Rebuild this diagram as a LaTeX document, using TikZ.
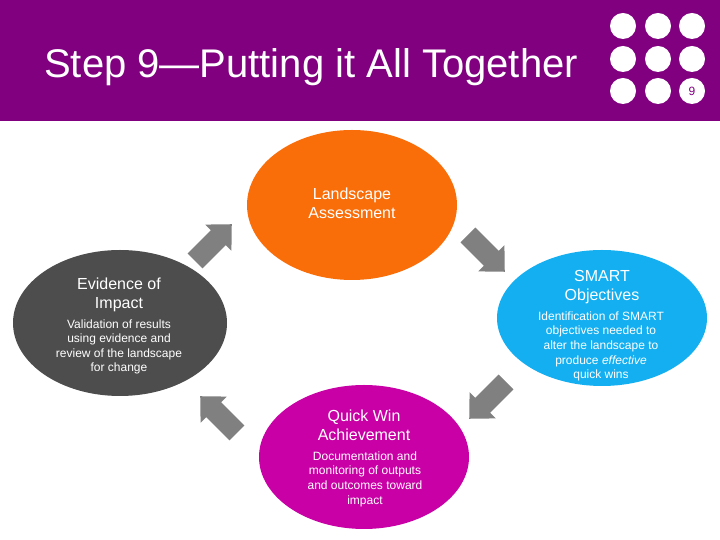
\documentclass[tikz,border=0pt]{standalone}
\usepackage{fontspec}
\setmainfont{Liberation Sans}
\usetikzlibrary{shapes.geometric}
\definecolor{hdrpurple}{RGB}{128,0,128}
\definecolor{landorange}{RGB}{250,110,10}
\definecolor{smartcyan}{RGB}{20,175,240}
\definecolor{evgray}{RGB}{77,77,77}
\definecolor{qwmagenta}{RGB}{200,0,165}
\definecolor{arrowgray}{RGB}{128,128,128}
\tikzset{
  blob/.style={ellipse, draw=none, inner sep=0pt},
  ttl/.style={text=white, align=center, inner sep=0pt, font=\fontsize{16}{19}\selectfont},
  bdy/.style={text=white, align=center, inner sep=0pt, font=\fontsize{12}{14.6}\selectfont},
  dot/.style={circle, fill=white, draw=none, minimum size=26pt, inner sep=0pt},
  blockarrow/.style={fill=arrowgray, draw=none}
}
\newcommand{\blockarr}[3]{%
  \fill[blockarrow, shift={(#1,#2)}, rotate=#3]
    (0,-10.5) -- (33,-10.5) -- (33,-18.5) -- (52,0) -- (33,18.5) -- (33,10.5) -- (0,10.5) -- cycle;}
\begin{document}
\begin{tikzpicture}[x=1pt,y=1pt]
\useasboundingbox (0,0) rectangle (720,540);
\fill[white] (0,0) rectangle (720,540);
% header
\fill[hdrpurple] (0,419) rectangle (720,540);
\node[anchor=base west, inner sep=0pt, text=white, font=\fontsize{40}{48}\selectfont] (title) at (44,462) {Step 9—Putting it All Together};
\foreach \cx [count=\i] in {623,658,692}{
  \foreach \cy [count=\j] in {514,481,449}{
    \node[dot] (d\i\j) at (\cx,\cy) {};
  }
}
\node[text=hdrpurple, inner sep=0pt, font=\fontsize{12}{14}\selectfont] (pnum) at (d33) {9};
% ellipses
\node[blob, fill=landorange, minimum width=210pt, minimum height=150pt] (land) at (352,335) {};
\node[blob, fill=smartcyan, minimum width=210pt, minimum height=136pt] (smart) at (602,222) {};
\node[blob, fill=evgray, minimum width=214pt, minimum height=146pt] (evid) at (120,217) {};
\node[blob, fill=qwmagenta, minimum width=210pt, minimum height=144pt] (quick) at (364,83) {};
% texts
\node[ttl] (landt) at (352,336.5) {Landscape\\Assessment};
\node[ttl] (smartt) at (602,252.5) {SMART\\Objectives};
\node[bdy] (smartb) at (601,193.5) {Identification of SMART\\objectives needed to\\alter the landscape to\\produce \textit{effective}\\quick wins};
\node[ttl] (evidt) at (119,245.5) {Evidence of\\Impact};
\node[bdy] (evidb) at (119,193) {Validation of results\\using evidence and\\review of the landscape\\for change};
\node[ttl] (quickt) at (364,114.5) {Quick Win\\Achievement};
\node[bdy] (quickb) at (365,61) {Documentation and\\monitoring of outputs\\and outcomes toward\\impact};
% arrows
\blockarr{195}{279}{45}
\blockarr{468}{305}{-45}
\blockarr{237}{107}{135}
\blockarr{506}{158}{-135}
\end{tikzpicture}
\end{document}
